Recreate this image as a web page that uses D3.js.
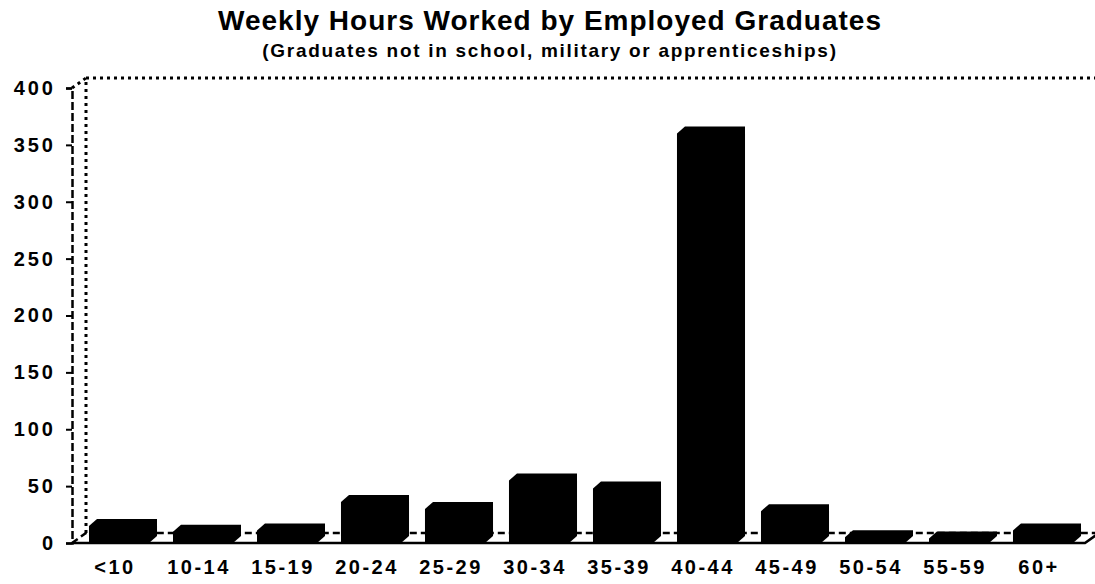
<!DOCTYPE html>
<html>
<head>
<meta charset="utf-8">
<script src="https://cdn.jsdelivr.net/npm/d3@7/dist/d3.min.js"></script>
<style>
  body { margin: 0; background: #fff; }
  text { font-family: "Liberation Sans", Arial, sans-serif; fill: #000; }
</style>
</head>
<body>
<svg id="chart" width="1095" height="584"></svg>
<script>
'use strict';

var categories = ['<10', '10-14', '15-19', '20-24', '25-29', '30-34', '35-39', '40-44', '45-49', '50-54', '55-59', '60+'];
var hours = [15, 10, 11, 36, 30, 55, 48, 360, 28, 5, 4, 11];
var yTicks = [0, 50, 100, 150, 200, 250, 300, 350, 400];

var svg = d3.select('#chart');

// 3d offsets: floor depth and bar bevel
var depth = { dx: 14, dy: -10 };
var bevel = { dx: 8, dy: -7 };

var x = d3.scaleBand()
  .domain(categories)
  .range([81, 1089])
  .paddingInner(0.19)
  .paddingOuter(0.095);

var y = d3.scaleLinear()
  .domain([0, 400])
  .range([543, 88]);

// titles
svg.append('text')
  .attr('x', 550).attr('y', 30)
  .attr('text-anchor', 'middle')
  .style('font-size', '28px').style('font-weight', 'bold')
  .style('letter-spacing', '1px')
  .text('Weekly Hours Worked by Employed Graduates');

svg.append('text')
  .attr('x', 550).attr('y', 57)
  .attr('text-anchor', 'middle')
  .style('font-size', '19px').style('font-weight', 'bold')
  .style('letter-spacing', '1.7px')
  .text('(Graduates not in school, military or apprenticeships)');

// back wall (dotted)
var x0 = 72, xEnd = 1085;
svg.append('path')
  .attr('d', 'M' + x0 + ',' + y(400) + 'L' + (x0 + depth.dx) + ',' + (y(400) + depth.dy) +
    'M' + (x0 + depth.dx) + ',' + (y(0) + depth.dy) +
    'V' + (y(400) + depth.dy) + 'H1095')
  .attr('fill', 'none')
  .attr('stroke', '#000')
  .attr('stroke-width', 3)
  .attr('stroke-dasharray', '3,4');

// floor
svg.append('path')
  .attr('d', 'M' + x0 + ',' + y(0) + 'L' + (x0 + depth.dx) + ',' + (y(0) + depth.dy) +
    'H1095')
  .attr('fill', 'none')
  .attr('stroke', '#000')
  .attr('stroke-width', 2.5)
  .attr('stroke-dasharray', '7,4');

svg.append('path')
  .attr('d', 'M' + x0 + ',' + y(0) + 'H' + xEnd + 'L' + (xEnd + depth.dx) + ',' + (y(0) + depth.dy))
  .attr('fill', 'none')
  .attr('stroke', '#000')
  .attr('stroke-width', 2.5);

// bars as solid 3d boxes
svg.selectAll('.bar')
  .data(categories)
  .enter().append('path')
  .attr('class', 'bar')
  .attr('fill', '#000')
  .attr('d', (d, i) => {
    var left = x(d);
    var right = left + x.bandwidth();
    var base = y(0);
    var top = y(hours[i]);
    return 'M' + left + ',' + base +
      'V' + top +
      'L' + (left + bevel.dx) + ',' + (top + bevel.dy) +
      'H' + right +
      'V' + (base + bevel.dy) +
      'L' + (right - bevel.dx) + ',' + base + 'Z';
  });

// y axis
var yAxis = d3.axisLeft(y)
  .tickValues(yTicks)
  .tickSize(6)
  .tickPadding(10);

var gy = svg.append('g')
  .attr('transform', 'translate(' + x0 + ',0)')
  .call(yAxis);

gy.select('.domain')
  .attr('stroke-width', 2.5)
  .attr('stroke-dasharray', '8,3');
gy.selectAll('.tick line').attr('stroke-width', 2);
gy.selectAll('.tick text')
  .style('font-size', '20px')
  .style('font-weight', 'bold')
  .style('letter-spacing', '3px')
  .style('font-family', '"Liberation Sans", Arial, sans-serif');

// category labels under the front faces
svg.selectAll('.xlabel')
  .data(categories)
  .enter().append('text')
  .attr('class', 'xlabel')
  .attr('x', d => x(d) + (x.bandwidth() - bevel.dx) / 2 - 4)
  .attr('y', 574)
  .attr('text-anchor', 'middle')
  .style('font-size', '20px')
  .style('font-weight', 'bold')
  .style('letter-spacing', '2.5px')
  .text(d => d);
</script>
</body>
</html>
